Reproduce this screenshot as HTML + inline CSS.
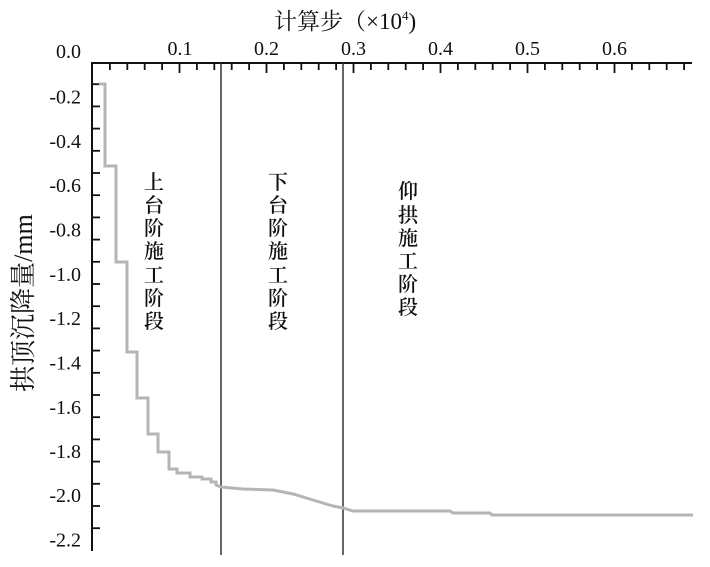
<!DOCTYPE html>
<html><head><meta charset="utf-8"><style>
html,body{margin:0;padding:0;background:#fff;}
svg{display:block;}
</style></head><body>
<svg width="710" height="567" viewBox="0 0 710 567" xmlns="http://www.w3.org/2000/svg">
<rect width="710" height="567" fill="#fff"/>
<!-- title -->
<text x="274" y="29" font-family="Liberation Serif, Noto Serif CJK SC, serif" font-size="23" fill="#111">计算步（×10<tspan font-size="13" dy="-9">4</tspan><tspan dy="9">)</tspan></text>
<!-- axes -->
<line x1="91" y1="63" x2="692" y2="63" stroke="#111" stroke-width="2"/>
<line x1="92" y1="62" x2="92" y2="551" stroke="#111" stroke-width="2"/>
<g stroke="#111" stroke-width="1.8">
<line x1="109.9" y1="63" x2="109.9" y2="70"/><line x1="127.3" y1="63" x2="127.3" y2="70"/><line x1="144.7" y1="63" x2="144.7" y2="70"/><line x1="162.1" y1="63" x2="162.1" y2="70"/><line x1="179.5" y1="63" x2="179.5" y2="73"/>
<line x1="196.9" y1="63" x2="196.9" y2="70"/><line x1="214.3" y1="63" x2="214.3" y2="70"/><line x1="231.7" y1="63" x2="231.7" y2="70"/><line x1="249.1" y1="63" x2="249.1" y2="70"/><line x1="266.5" y1="63" x2="266.5" y2="73"/>
<line x1="283.9" y1="63" x2="283.9" y2="70"/><line x1="301.3" y1="63" x2="301.3" y2="70"/><line x1="318.7" y1="63" x2="318.7" y2="70"/><line x1="336.1" y1="63" x2="336.1" y2="70"/><line x1="353.5" y1="63" x2="353.5" y2="73"/>
<line x1="370.9" y1="63" x2="370.9" y2="70"/><line x1="388.3" y1="63" x2="388.3" y2="70"/><line x1="405.7" y1="63" x2="405.7" y2="70"/><line x1="423.1" y1="63" x2="423.1" y2="70"/><line x1="440.5" y1="63" x2="440.5" y2="73"/>
<line x1="457.9" y1="63" x2="457.9" y2="70"/><line x1="475.3" y1="63" x2="475.3" y2="70"/><line x1="492.7" y1="63" x2="492.7" y2="70"/><line x1="510.1" y1="63" x2="510.1" y2="70"/><line x1="527.5" y1="63" x2="527.5" y2="73"/>
<line x1="544.9" y1="63" x2="544.9" y2="70"/><line x1="562.3" y1="63" x2="562.3" y2="70"/><line x1="579.7" y1="63" x2="579.7" y2="70"/><line x1="597.1" y1="63" x2="597.1" y2="70"/><line x1="614.5" y1="63" x2="614.5" y2="73"/>
<line x1="631.9" y1="63" x2="631.9" y2="70"/><line x1="649.3" y1="63" x2="649.3" y2="70"/><line x1="666.7" y1="63" x2="666.7" y2="70"/><line x1="684.1" y1="63" x2="684.1" y2="70"/>
</g>
<g stroke="#111" stroke-width="1.8">
<line x1="92" y1="84.2" x2="100" y2="84.2"/><line x1="92" y1="106.4" x2="100" y2="106.4"/><line x1="92" y1="128.6" x2="100" y2="128.6"/><line x1="92" y1="150.8" x2="100" y2="150.8"/><line x1="92" y1="173" x2="100" y2="173"/>
<line x1="92" y1="195.2" x2="100" y2="195.2"/><line x1="92" y1="217.4" x2="100" y2="217.4"/><line x1="92" y1="239.6" x2="100" y2="239.6"/><line x1="92" y1="261.8" x2="100" y2="261.8"/><line x1="92" y1="284" x2="100" y2="284"/>
<line x1="92" y1="306.2" x2="100" y2="306.2"/><line x1="92" y1="328.4" x2="100" y2="328.4"/><line x1="92" y1="350.6" x2="100" y2="350.6"/><line x1="92" y1="372.8" x2="100" y2="372.8"/><line x1="92" y1="395" x2="100" y2="395"/>
<line x1="92" y1="417.2" x2="100" y2="417.2"/><line x1="92" y1="439.4" x2="100" y2="439.4"/><line x1="92" y1="461.6" x2="100" y2="461.6"/><line x1="92" y1="483.8" x2="100" y2="483.8"/><line x1="92" y1="506" x2="100" y2="506"/>
<line x1="92" y1="528.2" x2="100" y2="528.2"/>
</g>
<!-- x tick labels -->
<g font-family="Liberation Serif, serif" font-size="20" fill="#111" text-anchor="middle">
<text x="180" y="55">0.1</text><text x="266.5" y="55">0.2</text><text x="353.5" y="55">0.3</text><text x="440.5" y="55">0.4</text><text x="527.5" y="55">0.5</text><text x="614.5" y="55">0.6</text>
</g>
<!-- y tick labels -->
<g font-family="Liberation Serif, serif" font-size="20" fill="#111" text-anchor="end">
<text x="81" y="58">0.0</text>
<text x="81" y="103.5">-0.2</text><text x="81" y="148">-0.4</text><text x="81" y="192">-0.6</text><text x="81" y="236.5">-0.8</text><text x="81" y="281">-1.0</text>
<text x="81" y="325">-1.2</text><text x="81" y="369.5">-1.4</text><text x="81" y="414">-1.6</text><text x="81" y="458">-1.8</text><text x="81" y="502">-2.0</text><text x="81" y="546.5">-2.2</text>
</g>
<!-- y axis title -->
<text transform="translate(32,303) rotate(-90)" text-anchor="middle" font-family="Liberation Serif, Noto Serif CJK SC, serif" font-size="26" fill="#111">拱顶沉降量/mm</text>
<!-- stage lines -->
<line x1="221" y1="63" x2="221" y2="555" stroke="#333" stroke-width="1.5"/>
<line x1="343" y1="63" x2="343" y2="555" stroke="#333" stroke-width="1.5"/>
<!-- stage labels -->
<g font-family="Noto Serif CJK SC, serif" font-size="20" font-weight="600" fill="#111" text-anchor="middle">
<text x="154" y="189">上</text><text x="154" y="212">台</text><text x="154" y="235">阶</text><text x="154" y="258">施</text><text x="154" y="282">工</text><text x="154" y="305">阶</text><text x="154" y="328">段</text>
<text x="278" y="189">下</text><text x="278" y="212">台</text><text x="278" y="235">阶</text><text x="278" y="258">施</text><text x="278" y="282">工</text><text x="278" y="305">阶</text><text x="278" y="328">段</text>
<text x="408" y="198">仰</text><text x="408" y="222">拱</text><text x="408" y="245">施</text><text x="408" y="268">工</text><text x="408" y="291">阶</text><text x="408" y="314">段</text>
</g>
<!-- curve -->
<polyline fill="none" stroke="#b5b5b5" stroke-width="3" stroke-linejoin="miter" points="
99,84 105,84 105,166 116,166 116,262 127,262 127,352 137,352 137,398 148,398 148,434 158,434 158,452 169,452 169,469
177,469 177,473 190,473 190,477 202,477 202,479 211,479 211,482 216,482 216,485 221,487
243,489 273,490 293,494 313,500 333,506 343,508 353,511 450,511 453,513 490,513 492,515 693,515"/>
</svg>
</body></html>
